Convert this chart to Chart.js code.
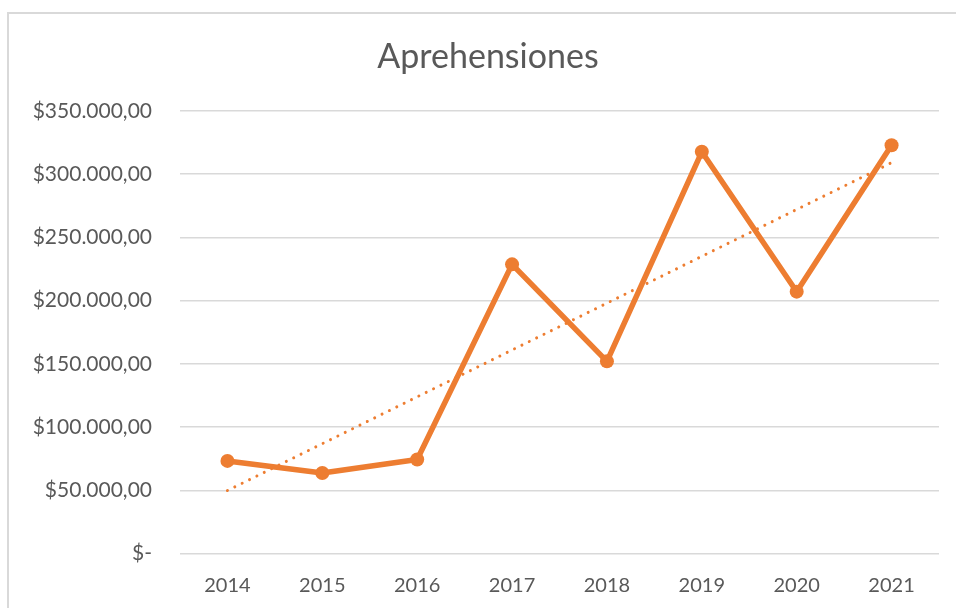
<!DOCTYPE html>
<html>
<head>
<meta charset="utf-8">
<script src="https://cdn.jsdelivr.net/npm/chart.js@4/dist/chart.umd.min.js"></script>
<style>
  html, body { margin: 0; padding: 0; background: #fff; }
  #wrap { position: relative; width: 956px; height: 608px; overflow: hidden; }
  #frame { position: absolute; left: 7px; top: 12px; width: 1000px; height: 700px;
           border-left: 2px solid #d9d9d9; border-top: 2px solid #d9d9d9; box-sizing: border-box; }
  canvas { position: absolute; left: 0; top: 0; }
</style>
</head>
<body>
<div id="wrap">
  <div id="frame"></div>
  <canvas id="c" width="976" height="608"></canvas>
</div>
<script>
const years = ['2014', '2015', '2016', '2017', '2018', '2019', '2020', '2021'];
const aprehensiones = [73200, 63700, 74300, 228600, 151900, 317600, 207000, 322800];
const tendencia = [49800, null, null, null, null, null, null, 309000];
const yMin = 0, yMax = 350000, yStep = 50000;
const chartTitle = 'Aprehensiones';

const orange = '#ED7D31';
const textColor = '#595959';
const gridColor = '#d9d9d9';
const fontFamily = 'Lato, "Open Sans", sans-serif';

function fmt(v) {
  if (v === 0) return '$-';
  const s = Math.round(v).toString().replace(/\B(?=(\d{3})+(?!\d))/g, '.');
  return '$' + s + ',00';
}

new Chart(document.getElementById('c'), {
  type: 'line',
  data: {
    labels: years,
    datasets: [
      {
        label: chartTitle,
        data: aprehensiones,
        borderColor: orange,
        backgroundColor: orange,
        borderWidth: 5.5,
        pointRadius: 7,
        pointBorderWidth: 0,
        pointBackgroundColor: orange,
        borderJoinStyle: 'round',
        borderCapStyle: 'round',
        tension: 0,
        fill: false
      },
      {
        label: 'Tendencia',
        data: tendencia,
        spanGaps: true,
        borderColor: orange,
        borderWidth: 3,
        borderDash: [0.01, 8.2],
        borderCapStyle: 'round',
        pointRadius: 0,
        tension: 0,
        fill: false
      }
    ]
  },
  options: {
    responsive: false,
    animation: false,
    devicePixelRatio: 1,
    layout: { padding: 0 },
    plugins: {
      legend: { display: false },
      tooltip: { enabled: false },
      title: {
        display: true,
        text: chartTitle,
        color: textColor,
        font: { family: fontFamily, size: 34, weight: 'normal' },
        padding: { top: 37, bottom: 33 }
      }
    },
    scales: {
      x: {
        offset: true,
        grid: { display: false, drawTicks: false },
        border: { display: false },
        ticks: {
          color: textColor,
          font: { family: fontFamily, size: 20 },
          padding: 20,
          maxRotation: 0
        },
        afterFit: (s) => { s.height = 54.5; }
      },
      y: {
        min: yMin,
        max: yMax,
        grid: { color: gridColor, lineWidth: 1.5, drawTicks: false },
        border: { display: false },
        ticks: {
          stepSize: yStep,
          color: textColor,
          font: { family: fontFamily, size: 21 },
          padding: 28,
          callback: (v) => fmt(v)
        },
        afterFit: (s) => { s.width = 180; }
      },
      spacer: {
        type: 'linear',
        position: 'right',
        display: true,
        min: 0,
        max: 1,
        grid: { display: false, drawTicks: false },
        border: { display: false },
        ticks: { display: false },
        afterFit: (s) => { s.width = 37; }
      }
    }
  }
});
</script>
</body>
</html>
